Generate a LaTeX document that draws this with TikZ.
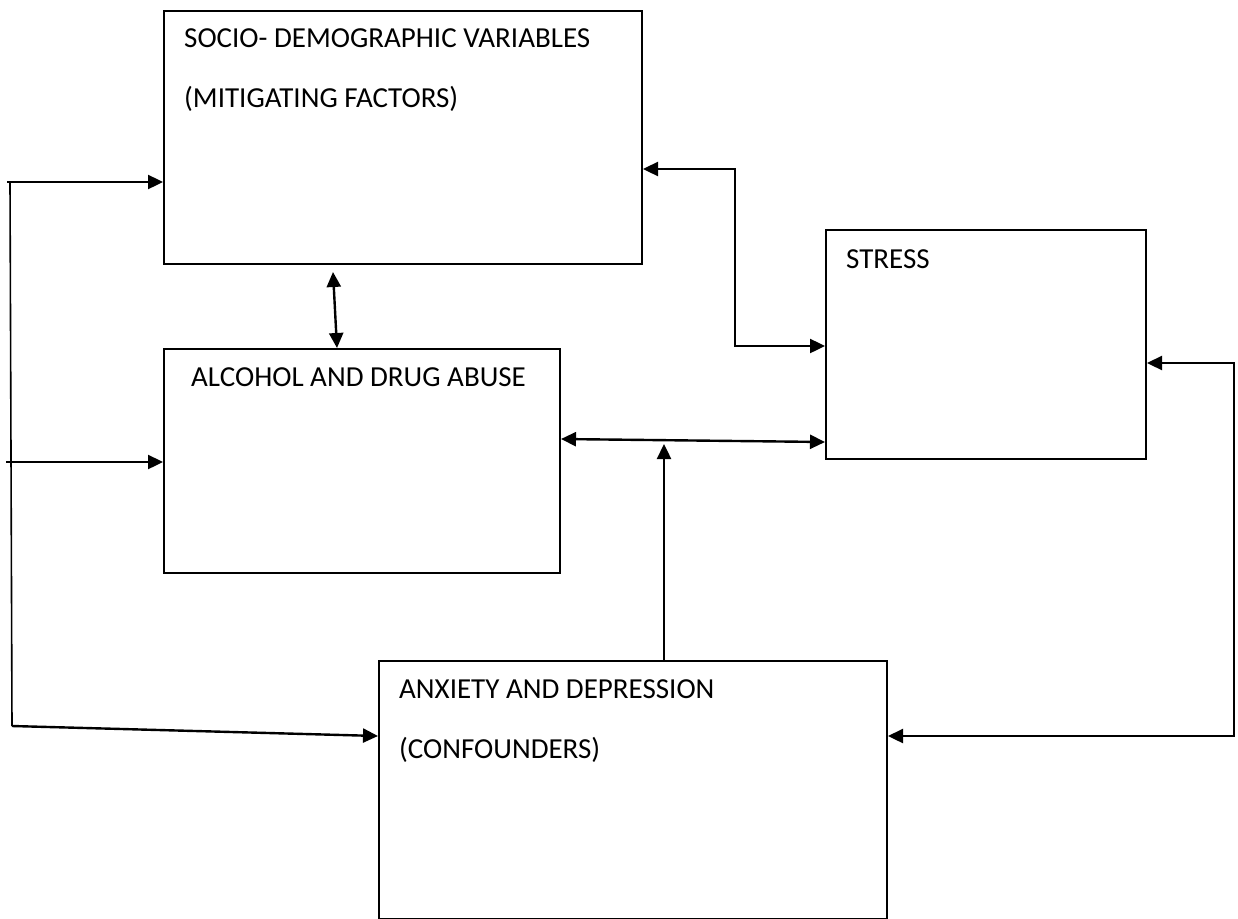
\documentclass[tikz,border=0pt]{standalone}
\usepackage{fontspec}
\setmainfont{Carlito}
\usetikzlibrary{arrows.meta,calc}
\tikzset{
  box/.style={draw=black, line width=2pt, rectangle, inner sep=0pt, anchor=north west},
  lbl/.style={anchor=base west, inner sep=0pt, font=\fontsize{29}{35}\selectfont},
  conn/.style={line width=2.4pt, draw=black},
  tipa/.style={-{Triangle[length=15pt,width=14pt]}},
  tipb/.style={{Triangle[length=15pt,width=14pt]}-{Triangle[length=15pt,width=14pt]}},
}
\begin{document}
\begin{tikzpicture}[x=1pt,y=-1pt]
\useasboundingbox (0,0) rectangle (1238,918);
% boxes
\node[box, minimum width=478pt, minimum height=253pt] (socio) at (163,10) {};
\node[box, minimum width=396pt, minimum height=224pt] (alc) at (163,348) {};
\node[box, minimum width=320pt, minimum height=229pt] (stress) at (825,229) {};
\node[box, minimum width=508pt, minimum height=258pt] (anx) at (378,660) {};
% texts
\node[lbl] (t1) at (184,47) {SOCIO- DEMOGRAPHIC VARIABLES};
\node[lbl] (t2) at (184,107) {(MITIGATING FACTORS)};
\node[lbl] (t3) at (191,386) {ALCOHOL AND DRUG ABUSE};
\node[lbl] (t4) at (846,268) {STRESS};
\node[lbl] (t5) at (399,698) {ANXIETY AND DEPRESSION};
\node[lbl] (t6) at (399,758) {(CONFOUNDERS)};
% left feed line
\coordinate (L1) at (7,182);
\coordinate (L2) at (6,462);
\coordinate (L3) at (12,726);
\coordinate (Vt) at (10,181);
\draw[line width=1.6pt] (Vt) -- (L3);
\draw[conn, tipa] (L1) -- (L1 -| socio.west);
\draw[conn, tipa] (L2) -- (L2 -| alc.west);
\draw[conn, tipa] (L3) -- ($(anx.north west)+(0,76)$);
% socio <-> alcohol
\draw[conn, tipb] ($(socio.south west)+(170,7)$) -- ($(alc.north west)+(174,0)$);
% socio <-> stress
\draw[conn, tipb] ($(socio.north east)+(0,159)$) -- ++(92,0) |- ($(stress.north west)+(0,117)$);
% alcohol <-> stress
\draw[conn, tipb] ($(alc.north east)+(0,91)$) -- ($(stress.north west)+(0,213)$);
% anxiety up to the alcohol-stress line
\draw[conn, tipa] ($(anx.north west)+(286,0)$) -- ++(0,-216);
% stress <-> anxiety
\draw[conn, tipb] ($(stress.north east)+(0,134)$) -- ++(87,0) |- ($(anx.north east)+(0,76)$);
\end{tikzpicture}
\end{document}
